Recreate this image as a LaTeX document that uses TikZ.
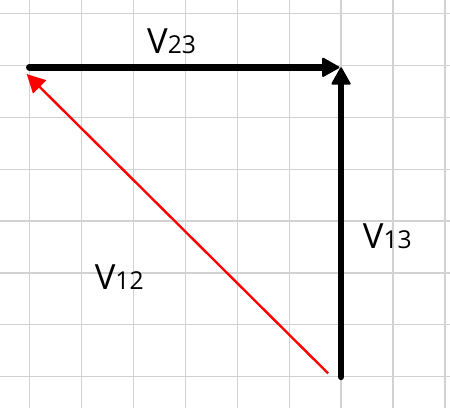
\documentclass[tikz,border=0pt]{standalone}
\usepackage{fontspec}
\setmainfont{Open Sans}
\usepackage{tikz}
\usetikzlibrary{arrows.meta,positioning}
\tikzstyle{vec}=[line width=3.6pt, line cap=round, -{Triangle[length=10pt,width=11pt,line width=1pt,round]}]
\tikzstyle{vecred}=[red, line width=1.3pt, -{Triangle[length=10pt,width=10pt]}]
\tikzstyle{lab}=[anchor=base, inner sep=0]
\newcommand{\vlab}[1]{{\fontsize{19}{21}\selectfont V}{\fontsize{13.5}{15}\selectfont #1}}

\begin{document}
\begin{tikzpicture}[x=1cm,y=0.993cm]

        \useasboundingbox (-0.564,-0.607) rectangle (8.097,7.305);
        \fill[white] (-0.564,-0.607) rectangle (8.097,7.305);

        % Grid
        \draw[gray!35, line width=0.6pt] (-0.564,-0.607) grid (8.097,7.305);

        \coordinate (p1) at (-0.05,5.87);
        \coordinate (p2) at (0,6);
        \coordinate (p3) at (6,6);
        \coordinate (p4) at (6,0);
        \coordinate (p5) at (5.75,0.07);

        \node[lab] (v23) at (2.74,6.27) {\vlab{23}};
        \node[lab] (v13) at (6.89,2.48) {\vlab{13}};
        \node[lab] (v12) at (1.73,1.70) {\vlab{12}};

% Arrows
        \draw[vec] (p2) -- ([xshift=-0.03cm]p3);
        \draw[vec] (p4) -- (p3);
        \draw[vecred] (p5) -- (p1);

    \end{tikzpicture}
\end{document}
